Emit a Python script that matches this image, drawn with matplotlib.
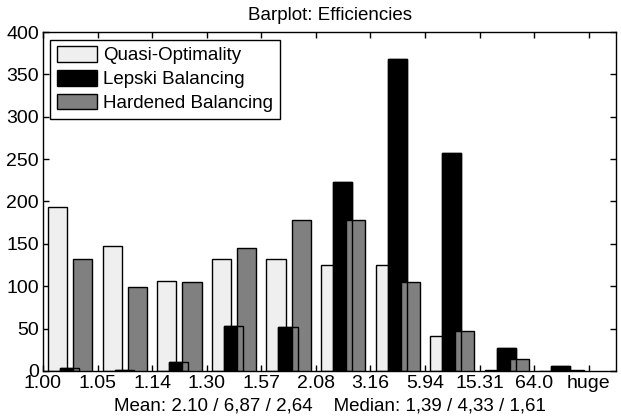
"""Grouped barplot of efficiencies for three parameter choice rules."""
import matplotlib

matplotlib.use("Agg")
import matplotlib.pyplot as plt
import numpy as np

plt.rcParams["font.family"] = ["Liberation Sans", "DejaVu Sans"]

tick_labels = ["1.00", "1.05", "1.14", "1.30", "1.57", "2.08",
               "3.16", "5.94", "15.31", "64.0", "huge"]
quasi_opt = [193, 147, 106, 132, 132, 125, 125, 41, 1, 0]
lepski = [4, 1, 11, 53, 52, 223, 368, 257, 27, 6]
hardened = [132, 99, 105, 145, 178, 178, 105, 47, 14, 1]
series_names = ["Quasi-Optimality", "Lepski Balancing", "Hardened Balancing"]

fig = plt.figure(figsize=(6.21, 4.2), dpi=100)
ax = fig.add_axes([0.0692, 0.1167, 0.9228, 0.8071])

x = np.arange(len(quasi_opt))
w = 0.35

ax.bar(x + 0.27, quasi_opt, w, color="#efefef", edgecolor="black",
       linewidth=1.0, zorder=2, label=series_names[0])
ax.bar(x + 0.49, lepski, w, color="black", edgecolor="black",
       linewidth=1.0, zorder=3, label=series_names[1])
ax.bar(x + 0.73, hardened, w, color="#808080", edgecolor="black",
       linewidth=1.0, zorder=4, label=series_names[2])
# outline of the black bars stays visible over the gray ones
ax.bar(x + 0.49, lepski, w, facecolor="none", edgecolor="black",
       linewidth=1.0, zorder=5)

ax.set_xlim(0, 10.5)
ax.set_ylim(0, 400)
ax.set_xticks(np.arange(len(tick_labels)))
ax.set_xticklabels(tick_labels)
ax.set_yticks(np.arange(0, 401, 50))
ax.tick_params(direction="in", top=True, right=True, length=4,
               width=1.0, labelsize=14)
ax.tick_params(axis="x", pad=3)
ax.tick_params(axis="y", pad=3)
for spine in ax.spines.values():
    spine.set_linewidth(1.0)

ax.set_title("Barplot: Efficiencies", fontsize=13.5, pad=9)
ax.set_xlabel("Mean: 2.10 / 6,87 / 2,64    Median: 1,39 / 4,33 / 1,61",
              fontsize=13.5, labelpad=4)

leg = ax.legend(loc="upper left", fontsize=13.5, frameon=True, fancybox=False,
                edgecolor="black", framealpha=1, handlelength=2.15,
                handleheight=0.9, handletextpad=0.3, labelspacing=0.3,
                borderpad=0.35, borderaxespad=0.4)
leg.get_frame().set_linewidth(1.0)

fig.savefig("out.png", dpi=100)
